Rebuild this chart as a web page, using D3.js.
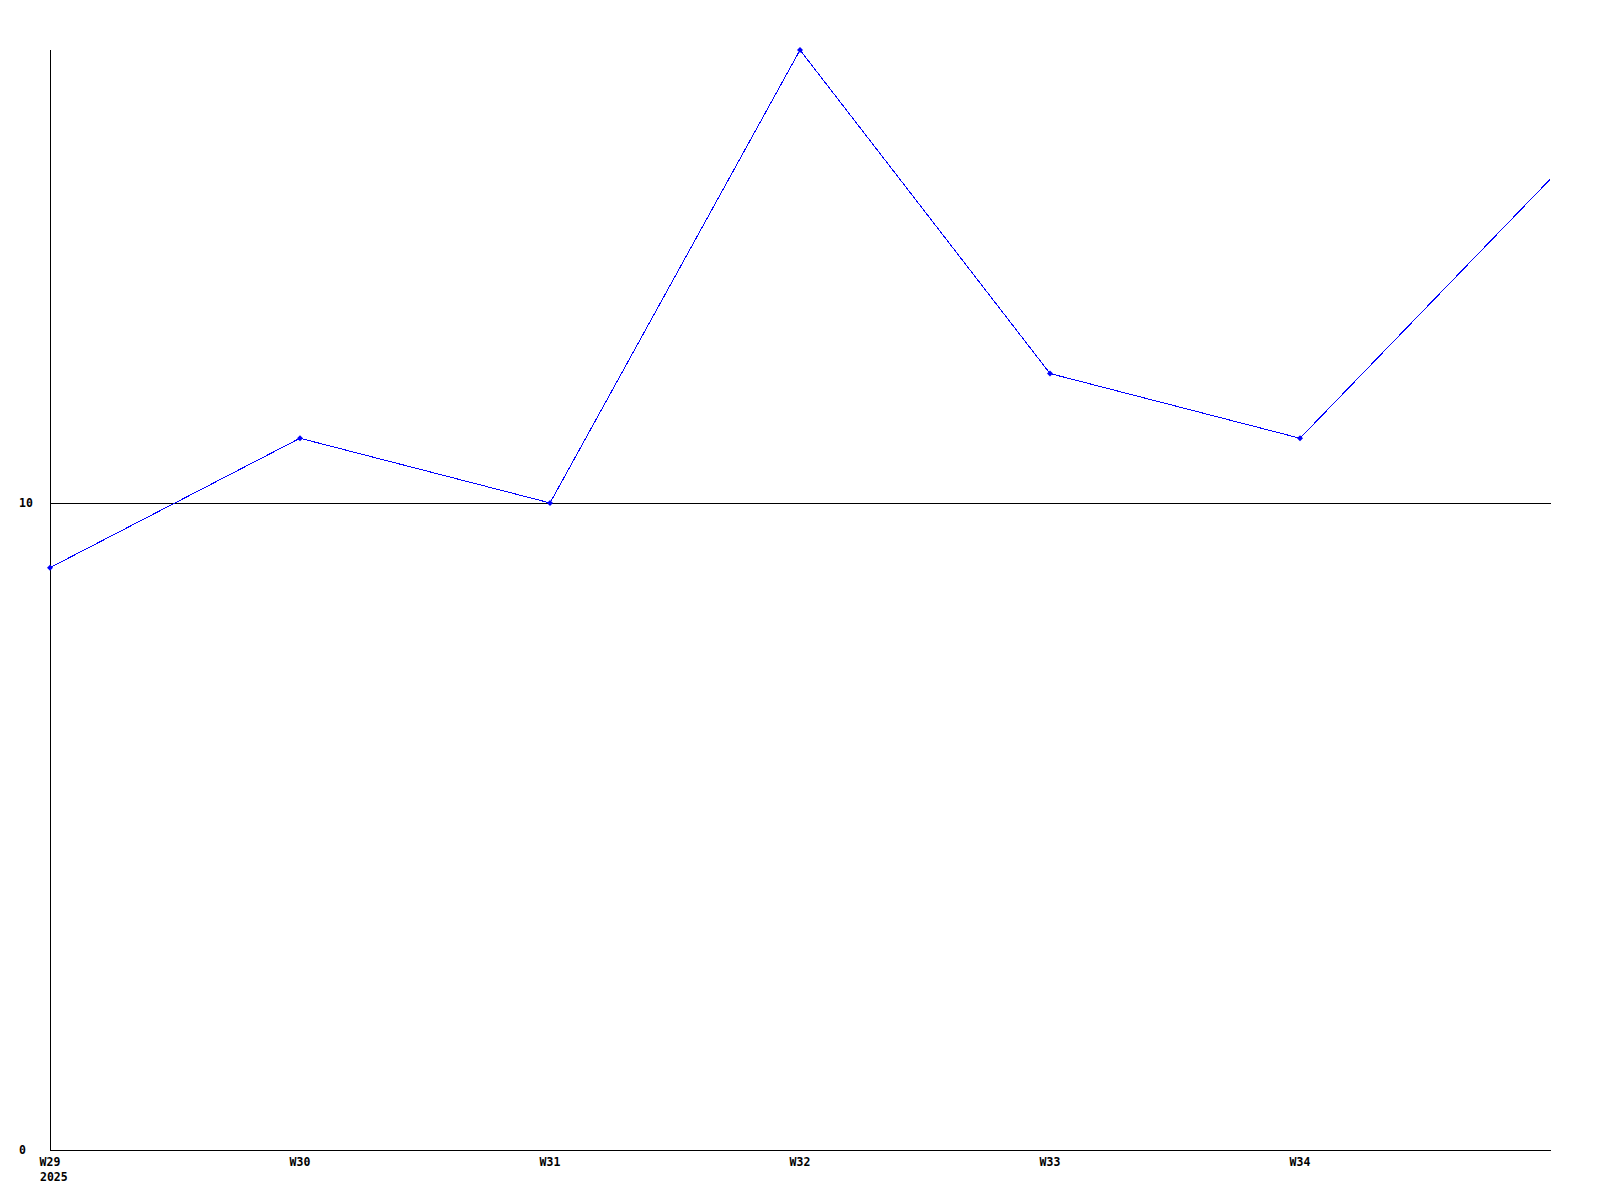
<!DOCTYPE html>
<html><head><meta charset="utf-8">
<script src="https://cdn.jsdelivr.net/npm/d3@7"></script>
<style>body{margin:0;background:#fff}svg{display:block}</style>
</head><body>
<script>
const weeks = ["W29","W30","W31","W32","W33","W34","W35"];
const values = [9, 11, 10, 17, 12, 11, 15];
const xTickLabels = ["W29","W30","W31","W32","W33","W34"];
const yTicks = [0, 10];
const yearLabel = "2025";

const W = 1600, H = 1200;
const m = {left: 50, right: 50, top: 50, bottom: 50};
const svg = d3.select("body").append("svg").attr("width", W).attr("height", H);

const x = d3.scalePoint().domain(weeks).range([m.left, W - m.right]);
const y = d3.scaleLinear().domain([0, 17]).range([H - m.bottom, m.top]);
const font = "'DejaVu Sans Mono', monospace";
const fs = 11.5;

// gridlines
svg.append("g").selectAll("line").data(yTicks.filter(d => d > 0)).join("line")
  .attr("x1", m.left).attr("x2", W - m.right + 1)
  .attr("y1", d => Math.round(y(d)) + 0.5).attr("y2", d => Math.round(y(d)) + 0.5)
  .attr("stroke", "#000").attr("stroke-width", 1);

// axes lines
svg.append("line").attr("x1", m.left + 0.5).attr("x2", m.left + 0.5)
  .attr("y1", m.top).attr("y2", H - m.bottom + 1).attr("stroke", "#000");
svg.append("line").attr("x1", m.left).attr("x2", W - m.right + 1)
  .attr("y1", H - m.bottom + 0.5).attr("y2", H - m.bottom + 0.5).attr("stroke", "#000");

// y labels
svg.append("g").selectAll("text").data(yTicks).join("text")
  .attr("x", 19).attr("y", d => y(d)).attr("dy", "0.35em")
  .attr("font-family", font).attr("font-weight", "bold").attr("font-size", fs)
  .text(d => d);

// x labels
svg.append("g").selectAll("text").data(xTickLabels).join("text")
  .attr("x", d => x(d)).attr("y", H - m.bottom + 12).attr("dy", "0.35em")
  .attr("text-anchor", "middle")
  .attr("font-family", font).attr("font-weight", "bold").attr("font-size", fs)
  .text(d => d);
svg.append("text").attr("x", x(weeks[0]) - 10).attr("y", H - m.bottom + 27).attr("dy", "0.35em")
  .attr("font-family", font).attr("font-weight", "bold").attr("font-size", fs)
  .text(yearLabel);

// line
const data = weeks.map((w, i) => ({w, v: values[i]}));
svg.append("path").datum(data)
  .attr("d", d3.line().x(d => x(d.w)).y(d => y(d.v)))
  .attr("fill", "none").attr("stroke", "#0000ff").attr("stroke-width", 1)
  .attr("shape-rendering", "crispEdges");

// markers
svg.append("g").selectAll("path").data(data.filter(d => x(d.w) < W - m.right)).join("path")
  .attr("transform", d => `translate(${x(d.w)},${y(d.v)})`)
  .attr("d", "M0,-3L3,0L0,3L-3,0Z")
  .attr("fill", "#0000ff");
</script>
</body></html>
